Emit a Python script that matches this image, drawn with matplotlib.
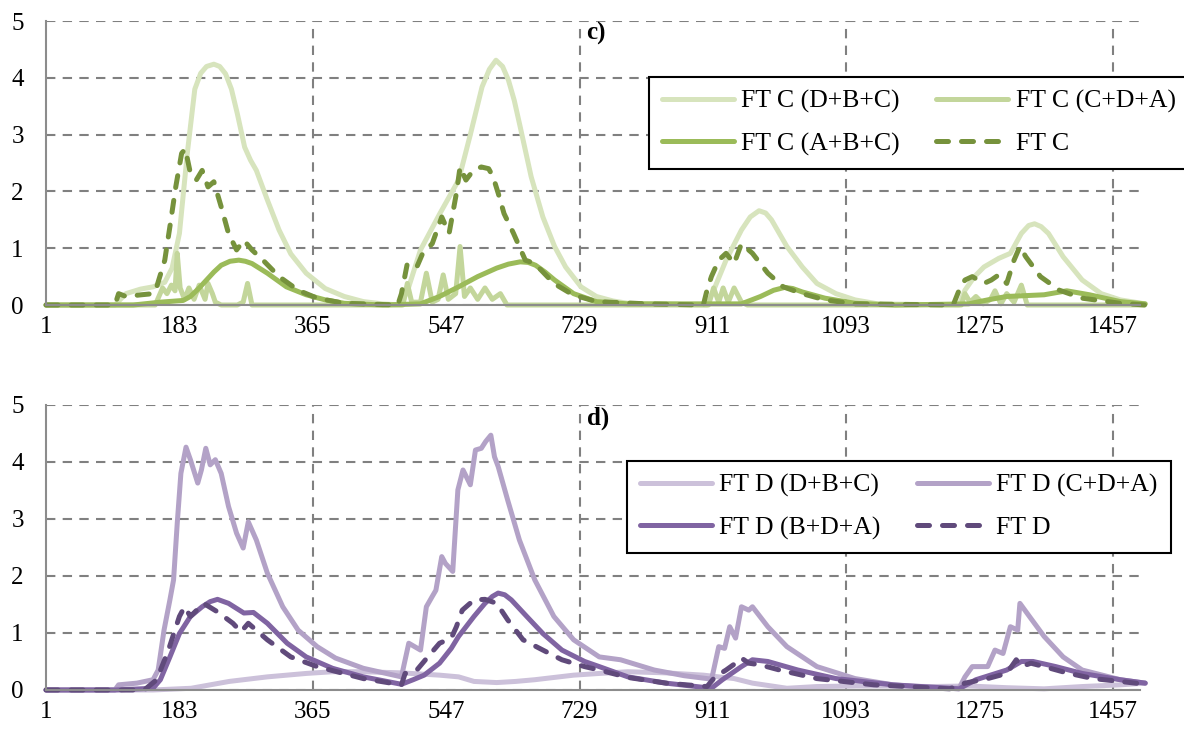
import matplotlib
matplotlib.use('Agg')
import matplotlib.pyplot as plt

plt.rcParams['font.family'] = ['Liberation Serif', 'DejaVu Serif']

# ---- panel c) ----
c_dbc_day = [1, 95, 110, 130, 147, 163, 173, 183, 194, 204, 212, 220, 230, 238, 246, 254, 262, 272, 280, 288, 303, 319, 335, 356, 382, 408, 434, 460,
             486, 496, 512, 538, 564, 580, 596, 606, 615, 624, 632, 640, 648, 663, 679, 695, 710, 731, 752, 775, 795,
             903, 914, 929, 950, 962, 974, 983, 991, 1012, 1033, 1053, 1079, 1105, 1136,
             1247, 1255, 1268, 1281, 1301, 1317, 1332, 1342, 1350, 1359, 1369, 1389, 1415, 1441, 1467, 1501]
c_dbc_val = [0, 0, 0.2, 0.28, 0.32, 0.4, 0.65, 1.26, 2.7, 3.8, 4.08, 4.2, 4.24, 4.2, 4.07, 3.8, 3.37, 2.78, 2.55, 2.37, 1.85, 1.32, 0.9, 0.56, 0.29, 0.15, 0.06, 0.02,
             0, 0.32, 0.97, 1.6, 2.2, 3.0, 3.84, 4.15, 4.31, 4.2, 3.96, 3.6, 3.14, 2.26, 1.55, 1.03, 0.67, 0.32, 0.15, 0.07, 0.03,
             0, 0.32, 0.79, 1.32, 1.55, 1.66, 1.62, 1.5, 1.03, 0.67, 0.38, 0.2, 0.09, 0.02,
             0, 0.26, 0.5, 0.67, 0.82, 0.91, 1.26, 1.4, 1.43, 1.38, 1.26, 0.85, 0.44, 0.2, 0.09, 0.02]

c_cda_day = [1, 150, 160, 166, 172, 177, 180, 184, 190, 196, 203, 210, 218, 222, 228, 232, 240, 262, 270, 276, 282, 300,
             488, 494, 500, 512, 520, 528, 536, 543, 550, 560, 566, 572, 580, 590, 600, 610, 621, 630, 640,
             905, 912, 919, 925, 932, 940, 950, 958, 1000,
             1250, 1255, 1262, 1270, 1280, 1290, 1296, 1304, 1312, 1322, 1332, 1340, 1500]
c_cda_val = [0, 0, 0.3, 0.2, 0.35, 0.25, 0.91, 0.3, 0.1, 0.3, 0.1, 0.35, 0.1, 0.38, 0.2, 0.05, 0, 0, 0.05, 0.38, 0, 0,
             0, 0.38, 0.05, 0.05, 0.56, 0.05, 0.1, 0.53, 0.1, 0.2, 1.03, 0.15, 0.3, 0.1, 0.3, 0.1, 0.2, 0, 0,
             0, 0.3, 0.05, 0.3, 0.05, 0.3, 0.05, 0.0, 0,
             0, 0.2, 0.05, 0.15, 0.02, 0.1, 0.25, 0.02, 0.2, 0.05, 0.35, 0.0, 0]

c_abc_day = [1, 120, 157, 188, 198, 210, 220, 230, 240, 252, 264, 273, 282, 303, 329, 356, 382, 408, 460,
             512, 538, 564, 590, 616, 632, 648, 659, 669, 682, 695, 721, 752, 795,
             950, 976, 994, 1009, 1020, 1033, 1064, 1105, 1160,
             1260, 1286, 1312, 1363, 1394, 1425, 1467, 1501]
c_abc_val = [0, 0, 0.05, 0.08, 0.15, 0.3, 0.44, 0.58, 0.7, 0.77, 0.79, 0.77, 0.73, 0.56, 0.32, 0.18, 0.09, 0.03, 0,
             0.02, 0.15, 0.32, 0.5, 0.65, 0.72, 0.76, 0.75, 0.7, 0.58, 0.44, 0.2, 0.06, 0.02,
             0.02, 0.15, 0.26, 0.31, 0.29, 0.23, 0.12, 0.03, 0,
             0.02, 0.09, 0.15, 0.18, 0.25, 0.18, 0.06, 0.02]

c_ft_day = [1, 95, 100, 110, 131, 147, 152, 163, 170, 178, 186, 191, 198, 206, 214, 222, 230, 240, 250, 261, 271, 282, 297,
            319, 345, 371, 408, 481,
            486, 494, 507, 515, 528, 541, 551, 561, 566, 574, 584, 595, 605, 611, 618, 626, 639, 655, 668, 694, 720, 752,
            821, 898,
            903, 909, 919, 929, 940, 950, 965, 986, 1007, 1033, 1064, 1105, 1239,
            1247, 1255, 1265, 1281, 1291, 1301, 1312, 1322, 1330, 1338, 1358, 1384, 1415, 1467, 1501]
c_ft_val = [0, 0, 0.2, 0.15, 0.18, 0.2, 0.32, 0.79, 1.38, 2.08, 2.67, 2.75, 2.32, 2.2, 2.37, 2.08, 2.17, 1.73, 1.26, 0.97, 1.14, 0.97, 0.79,
            0.5, 0.26, 0.12, 0.03, 0,
            0.2, 0.73, 0.67, 0.91, 1.08, 1.55, 1.26, 1.97, 2.43, 2.2, 2.37, 2.43, 2.4, 2.26, 1.97, 1.61, 1.26, 0.79, 0.73, 0.38, 0.18, 0.06,
            0.02, 0,
            0.26, 0.5, 0.79, 0.91, 0.73, 1.08, 0.91, 0.56, 0.32, 0.2, 0.09, 0.02, 0,
            0.26, 0.44, 0.5, 0.38, 0.44, 0.53, 0.38, 0.79, 1.03, 0.85, 0.5, 0.26, 0.12, 0.03, 0.0]

# ---- panel d) ----
d_dbc_day = [1, 147, 199, 251, 303, 356, 392, 434, 486, 538, 564, 585, 616, 642, 668, 721, 756,
             795, 847, 898, 940, 965, 1012, 1053, 1105, 1157, 1208, 1260, 1312, 1363, 1415, 1467, 1501]
d_dbc_val = [0, 0, 0.03, 0.15, 0.23, 0.29, 0.32, 0.32, 0.3, 0.26, 0.23, 0.15, 0.13, 0.15, 0.18, 0.26, 0.29,
             0.32, 0.3, 0.26, 0.2, 0.12, 0.03, 0.06, 0.07, 0.07, 0.06, 0.07, 0.04, 0.02, 0.06, 0.09, 0.12]

d_cda_day = [1, 95, 100, 125, 147, 154, 162, 170, 175, 180, 185, 192, 198, 208, 213, 219, 225, 232, 240, 250, 261, 270,
             277, 288, 303, 324, 345, 371, 396, 434, 486,
             489, 496, 512, 520, 528, 533, 541, 546, 556, 563, 570, 580, 587, 595, 601, 608, 613, 618, 631, 647, 668,
             694, 721, 756, 785, 831, 872, 909,
             911, 919, 927, 934, 942, 950, 960, 965, 986, 1012, 1053, 1105, 1157, 1208, 1247,
             1255, 1265, 1286, 1296, 1307, 1317, 1327, 1330, 1343, 1363, 1389, 1415, 1467, 1501]
d_cda_val = [0, 0, 0.09, 0.12, 0.18, 0.35, 1.05, 1.58, 1.93, 2.92, 3.8, 4.26, 4.04, 3.63, 3.86, 4.24, 3.95, 4.04, 3.8, 3.22, 2.75, 2.49,
             2.95, 2.63, 2.05, 1.46, 1.05, 0.76, 0.56, 0.38, 0.23,
             0.41, 0.82, 0.7, 1.46, 1.64, 1.75, 2.34, 2.22, 2.08, 3.51, 3.86, 3.6, 4.21, 4.24, 4.36, 4.47, 4.09, 3.92, 3.33, 2.63, 1.93,
             1.29, 0.88, 0.58, 0.53, 0.35, 0.25, 0.19,
             0.29, 0.76, 0.73, 1.11, 0.91, 1.46, 1.4, 1.46, 1.11, 0.76, 0.41, 0.2, 0.09, 0.04, 0.03,
             0.23, 0.41, 0.41, 0.7, 0.64, 1.11, 1.05, 1.52, 1.29, 0.94, 0.58, 0.35, 0.18, 0.12]

d_bda_day = [1, 95, 147, 157, 170, 183, 198, 214, 225, 235, 250, 271, 284, 303, 330, 356, 392, 434, 486,
             502, 517, 538, 554, 564, 585, 600, 610, 618, 627, 636, 657, 679, 705, 736, 756,
             795, 847, 909, 924, 950, 965, 986, 1027, 1079, 1157, 1247,
             1270, 1312, 1332, 1348, 1379, 1415, 1467, 1501]
d_bda_val = [0, 0, 0.03, 0.18, 0.58, 0.99, 1.29, 1.46, 1.55, 1.59, 1.52, 1.35, 1.36, 1.17, 0.82, 0.58, 0.38, 0.23, 0.1,
             0.18, 0.26, 0.47, 0.73, 0.94, 1.29, 1.52, 1.64, 1.7, 1.67, 1.58, 1.29, 0.99, 0.7, 0.5, 0.41,
             0.23, 0.12, 0.03, 0.18, 0.41, 0.53, 0.5, 0.35, 0.2, 0.09, 0.02,
             0.18, 0.35, 0.5, 0.5, 0.41, 0.29, 0.18, 0.12]

d_ft_day = [1, 135, 152, 168, 183, 190, 198, 216, 235, 256, 267, 277, 303, 335, 371, 434, 486,
            491, 507, 522, 538, 554, 561, 569, 585, 600, 616, 631, 652, 679, 705, 736, 756,
            795, 847, 903, 914, 929, 942, 950, 960, 976, 1002, 1053, 1131, 1234,
            1255, 1286, 1312, 1325, 1332, 1345, 1363, 1394, 1430, 1467, 1501]
d_ft_val = [0, 0, 0.18, 0.7, 1.29, 1.46, 1.29, 1.52, 1.37, 1.17, 1.02, 1.17, 0.88, 0.58, 0.41, 0.2, 0.09,
            0.29, 0.35, 0.58, 0.82, 0.91, 1.11, 1.4, 1.58, 1.59, 1.52, 1.23, 0.88, 0.7, 0.53, 0.41, 0.35,
            0.22, 0.12, 0.06, 0.23, 0.35, 0.47, 0.56, 0.47, 0.44, 0.35, 0.2, 0.09, 0.02,
            0.12, 0.2, 0.29, 0.53, 0.41, 0.47, 0.41, 0.3, 0.2, 0.15, 0.1]

x_labels = [1, 183, 365, 547, 729, 911, 1093, 1275, 1457]
x_grid = [365, 729, 1093, 1457]
y_ticks = [0, 1, 2, 3, 4, 5]


def style_axes(ax):
    ax.set_xlim(1, 1494)
    ax.set_ylim(0, 5)
    ax.xaxis.remove_overlapping_locs = False
    ax.set_xticks(x_labels)
    ax.set_xticks(x_grid, minor=True)
    ax.set_yticks(y_ticks)
    ax.tick_params(which='both', length=0, labelsize=18)
    ax.tick_params(axis='x', pad=8)
    ax.tick_params(axis='y', pad=16)
    ax.grid(axis='x', which='minor', color='#808080', lw=1.5, ls=(0, (4.5, 3.5)))
    ax.grid(axis='y', which='major', color='#808080', lw=1.5, ls=(0, (4.5, 3.5)))
    ax.set_axisbelow(True)
    for s in ['top', 'right']:
        ax.spines[s].set_visible(False)
    for s in ['left', 'bottom']:
        ax.spines[s].set_color('#8c8c8c')
        ax.spines[s].set_linewidth(1.5)


fig = plt.figure(figsize=(11.84, 7.33), dpi=100)
ax1 = fig.add_axes([0.0389, 0.5839, 0.924, 0.3874])
ax2 = fig.add_axes([0.0389, 0.0587, 0.924, 0.3888])

lw = 3.6
kw = dict(lw=lw, solid_capstyle='round', solid_joinstyle='round', clip_on=False)
dkw = dict(lw=lw, dash_capstyle='round', dash_joinstyle='round', clip_on=False)

ax1.plot(c_dbc_day, c_dbc_val, color='#d7e4bd', label='FT C (D+B+C)', **kw)
ax1.plot(c_cda_day, c_cda_val, color='#c3d69b', label='FT C (C+D+A)', **kw)
ax1.plot(c_abc_day, c_abc_val, color='#9bbb59', label='FT C (A+B+C)', **kw)
ax1.plot(c_ft_day, c_ft_val, color='#76923c', ls=(0, (2.4, 2.6)), label='FT C', **dkw)

ax2.plot(d_dbc_day, d_dbc_val, color='#ccc1da', label='FT D (D+B+C)', **kw)
ax2.plot(d_cda_day, d_cda_val, color='#b3a2c7', label='FT D (C+D+A)', **kw)
ax2.plot(d_bda_day, d_bda_val, color='#8064a2', label='FT D (B+D+A)', **kw)
ax2.plot(d_ft_day, d_ft_val, color='#604a7b', ls=(0, (2.4, 2.6)), label='FT D', **dkw)

for ax, anchor, tag in [(ax1, (0.551, 0.803), 'c)'), (ax2, (0.531, 0.804), 'd)')]:
    style_axes(ax)
    h, l = ax.get_legend_handles_labels()
    # row-wise order like the original: 1 2 / 3 4
    order = [0, 2, 1, 3]
    leg = ax.legend([h[i] for i in order], [l[i] for i in order], ncol=2, loc='upper left',
                    bbox_to_anchor=anchor, borderaxespad=0,
                    fontsize=18.5, frameon=True, fancybox=False, edgecolor='black',
                    handlelength=2.8, handletextpad=0.3, columnspacing=1.4,
                    labelspacing=0.75, borderpad=0.5)
    leg.get_frame().set_linewidth(1.5)
    leg.get_frame().set_alpha(1)
    ax.text(0.494, 0.955, tag, transform=ax.transAxes, fontsize=18, fontweight='bold',
            va='center', ha='left', zorder=5)

plt.savefig('out.png', dpi=100)
